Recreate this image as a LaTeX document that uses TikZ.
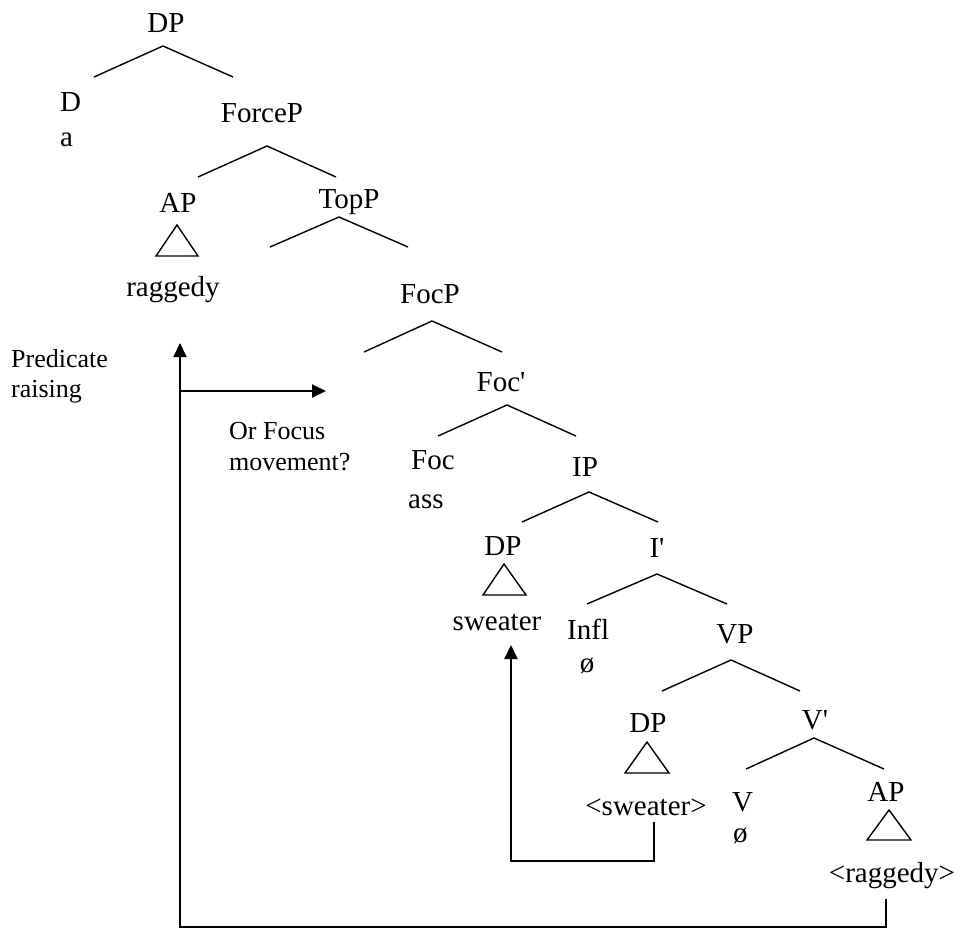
\documentclass[tikz,border=0pt]{standalone}
\usepackage{fontspec}
\setmainfont{Liberation Serif}
\usetikzlibrary{arrows.meta}
\begin{document}
\begin{tikzpicture}[x=1pt,y=-1pt,
  lab/.style={inner sep=0pt,anchor=base,font=\fontsize{29}{34}\selectfont},
  labw/.style={lab,anchor=base west},
  note/.style={inner sep=0pt,anchor=base west,font=\fontsize{26}{30}\selectfont},
  branch/.style={line width=1.4pt},
  tri/.style={line width=1.4pt},
  mv/.style={line width=2pt},
  mvtip/.style={mv,-{Triangle[length=14pt,width=13pt]}}]
\useasboundingbox (0,0) rectangle (954,929);

% labels
\node[lab] (dp0) at (166,32) {DP};
\node[labw] (d0) at (60,111) {D};
\node[labw] (a0) at (60,146) {a};
\node[lab] (force) at (262,122) {ForceP};
\node[lab] (ap1) at (178,212) {AP};
\node[lab] (rag1) at (173,296) {raggedy};
\node[lab] (top) at (349,208) {TopP};
\node[lab] (focp) at (430,303) {FocP};
\node[lab] (focb) at (501,391) {Foc\textquotesingle};
\node[labw] (foc) at (411,469) {Foc};
\node[labw] (ass) at (408,508) {ass};
\node[lab] (ip) at (585,476) {IP};
\node[lab] (dp2) at (503,555) {DP};
\node[lab] (sw1) at (497,630) {sweater};
\node[lab] (ib) at (657,557) {I\textquotesingle};
\node[labw] (infl) at (567,639) {Infl};
\node[lab] (infle) at (587,672) {ø};
\node[lab] (vp) at (735,643) {VP};
\node[lab] (dp3) at (648,732) {DP};
\node[lab] (sw2) at (646,815) {<sweater>};
\node[lab] (vb) at (815,729) {V\textquotesingle};
\node[labw] (v) at (732,811) {V};
\node[labw] (ve) at (733,842) {ø};
\node[lab] (ap2) at (886,801) {AP};
\node[lab] (rag2) at (892,882) {<raggedy>};

\node[note] (pred1) at (11,367) {Predicate};
\node[note] (pred2) at (11,397) {raising};
\node[note] (orf1) at (229,439) {Or Focus};
\node[note] (orf2) at (229,470) {movement?};

% branches
\coordinate (b0) at (163,46); \coordinate (b0l) at (94,77); \coordinate (b0r) at (233,77);
\coordinate (b1) at (267,146); \coordinate (b1l) at (198,177); \coordinate (b1r) at (336,177);
\coordinate (b2) at (339,217); \coordinate (b2l) at (270,247); \coordinate (b2r) at (408,247);
\coordinate (b3) at (432,321); \coordinate (b3l) at (364,352); \coordinate (b3r) at (502,352);
\coordinate (b4) at (507,405); \coordinate (b4l) at (438,436); \coordinate (b4r) at (576,436);
\coordinate (b5) at (589,492); \coordinate (b5l) at (522,522); \coordinate (b5r) at (658,522);
\coordinate (b6) at (657,574); \coordinate (b6l) at (587,604); \coordinate (b6r) at (727,604);
\coordinate (b7) at (731,660); \coordinate (b7l) at (662,691); \coordinate (b7r) at (800,691);
\coordinate (b8) at (814,738); \coordinate (b8l) at (746,769); \coordinate (b8r) at (884,769);
\foreach \b in {b0,b1,b2,b3,b4,b5,b6,b7,b8}
  \draw[branch] (\b l) -- (\b) -- (\b r);

% triangles
\draw[tri] (177,225) -- (156,256) -- (198,256) -- cycle;
\draw[tri] (504,564) -- (483,595) -- (526,595) -- cycle;
\draw[tri] (647,742) -- (625,773) -- (669,773) -- cycle;
\draw[tri] (889,810) -- (867,840) -- (911,840) -- cycle;

% movement arrows
\coordinate (s0) at (654,822);
\coordinate (s1) at (654,861);
\coordinate (s2) at (511,861);
\coordinate (s3) at (511,645);
\draw[mvtip] (s0) -- (s1) -- (s2) -- (s3);

\coordinate (r0) at (886,899);
\coordinate (r1) at (886,927);
\coordinate (r2) at (180,927);
\coordinate (r3) at (180,343);
\coordinate (rb) at (180,391);
\coordinate (rbt) at (326,391);
\draw[mvtip] (r0) -- (r1) -- (r2) -- (r3);
\draw[mvtip] (rb) -- (rbt);
\end{tikzpicture}
\end{document}
